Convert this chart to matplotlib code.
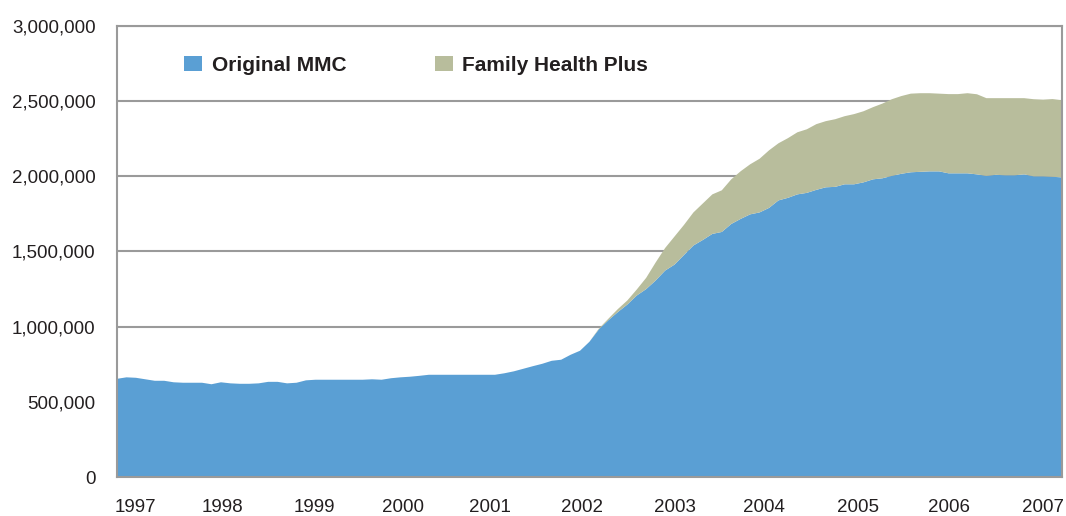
import numpy as np
import matplotlib
matplotlib.use("Agg")
import matplotlib.pyplot as plt
from matplotlib.patches import Patch
from matplotlib.ticker import FuncFormatter

# enrollment, in thousands, evenly spaced periods
mmc = [653, 663, 660, 650, 640, 640, 630, 627, 627, 627,
       617, 630, 623, 620, 620, 623, 633, 633, 623, 627,
       643, 647, 647, 647, 647, 647, 647, 650, 647, 657,
       663, 667, 673, 680, 680, 680, 680, 680, 680, 680,
       680, 690, 703, 720, 737, 753, 773, 780, 813, 840,
       900, 983, 1043, 1097, 1147, 1207, 1250, 1307, 1373, 1413,
       1477, 1540, 1577, 1617, 1630, 1683, 1717, 1747, 1760, 1790,
       1840, 1857, 1880, 1890, 1910, 1927, 1930, 1947, 1947, 1960,
       1980, 1987, 2003, 2017, 2027, 2030, 2033, 2033, 2020, 2020,
       2020, 2013, 2003, 2010, 2007, 2007, 2013, 2000, 2000, 1997,
       1993]
fhp = [0] * 51 + [
    5, 10, 20, 27, 40, 75, 120, 150, 187, 200,
    220, 243, 263, 277, 297, 317, 333, 357, 383, 380,
    397, 413, 423, 437, 440, 450, 453, 467, 473, 480,
    497, 510, 517, 523, 523, 520, 517, 527, 527, 533,
    533, 517, 510, 513, 513, 507, 513, 510, 517, 513]

years = ["1997", "1998", "1999", "2000", "2001", "2002",
         "2003", "2004", "2005", "2006", "2007"]
year_pos = [2.0, 11.2, 20.9, 30.3, 39.5, 49.2, 59.0, 68.5, 78.4, 88.0, 98.0]

labels = ["Original MMC", "Family Health Plus"]
colors = ["#5a9fd4", "#b8bd9c"]

plt.rcParams["font.family"] = ["Liberation Sans", "DejaVu Sans"]
text_col = "#231f20"
line_col = "#9a9a9a"

period = np.arange(len(mmc))
mmc_v = np.array(mmc) * 1000
fhp_v = np.array(fhp) * 1000

fig = plt.figure(figsize=(10.66, 5.16), dpi=100)
ax = fig.add_axes([117 / 1066, 39 / 516, 945 / 1066, 451 / 516])

ax.stackplot(period, mmc_v, fhp_v, colors=colors, linewidth=0, zorder=2)

ax.set_xlim(0, len(mmc) - 1)
ax.set_ylim(0, 3000000)
ax.set_yticks(np.arange(0, 3000001, 500000))
ax.yaxis.set_major_formatter(FuncFormatter(lambda v, p: "{:,.0f}".format(v)))
ax.set_xticks(year_pos)
ax.set_xticklabels(years)
ax.tick_params(axis="both", length=0, labelsize=13.5, colors=text_col)
ax.tick_params(axis="y", pad=15.5)
ax.tick_params(axis="x", pad=16)

ax.grid(axis="y", color=line_col, linewidth=1.5, zorder=1)
ax.set_axisbelow(True)
for s in ax.spines.values():
    s.set_color(line_col)
    s.set_linewidth(1.5)

# two separate legend entries so each sits where the reference has it
leg_prop = {"size": 15, "weight": "bold"}
anchors = [(67 / 945, 1 - 30 / 451), (318 / 945, 1 - 30 / 451)]
legs = []
for lab, col, anc in zip(labels, colors, anchors):
    leg = ax.legend([Patch(facecolor=col, edgecolor="none")], [lab],
                    frameon=False, loc="upper left", bbox_to_anchor=anc,
                    borderpad=0, borderaxespad=0, prop=leg_prop,
                    handlelength=0.87, handleheight=0.72, handletextpad=0.45)
    for t in leg.get_texts():
        t.set_color(text_col)
    legs.append(leg)
for leg in legs[:-1]:
    ax.add_artist(leg)

fig.savefig("out.png", dpi=100)
